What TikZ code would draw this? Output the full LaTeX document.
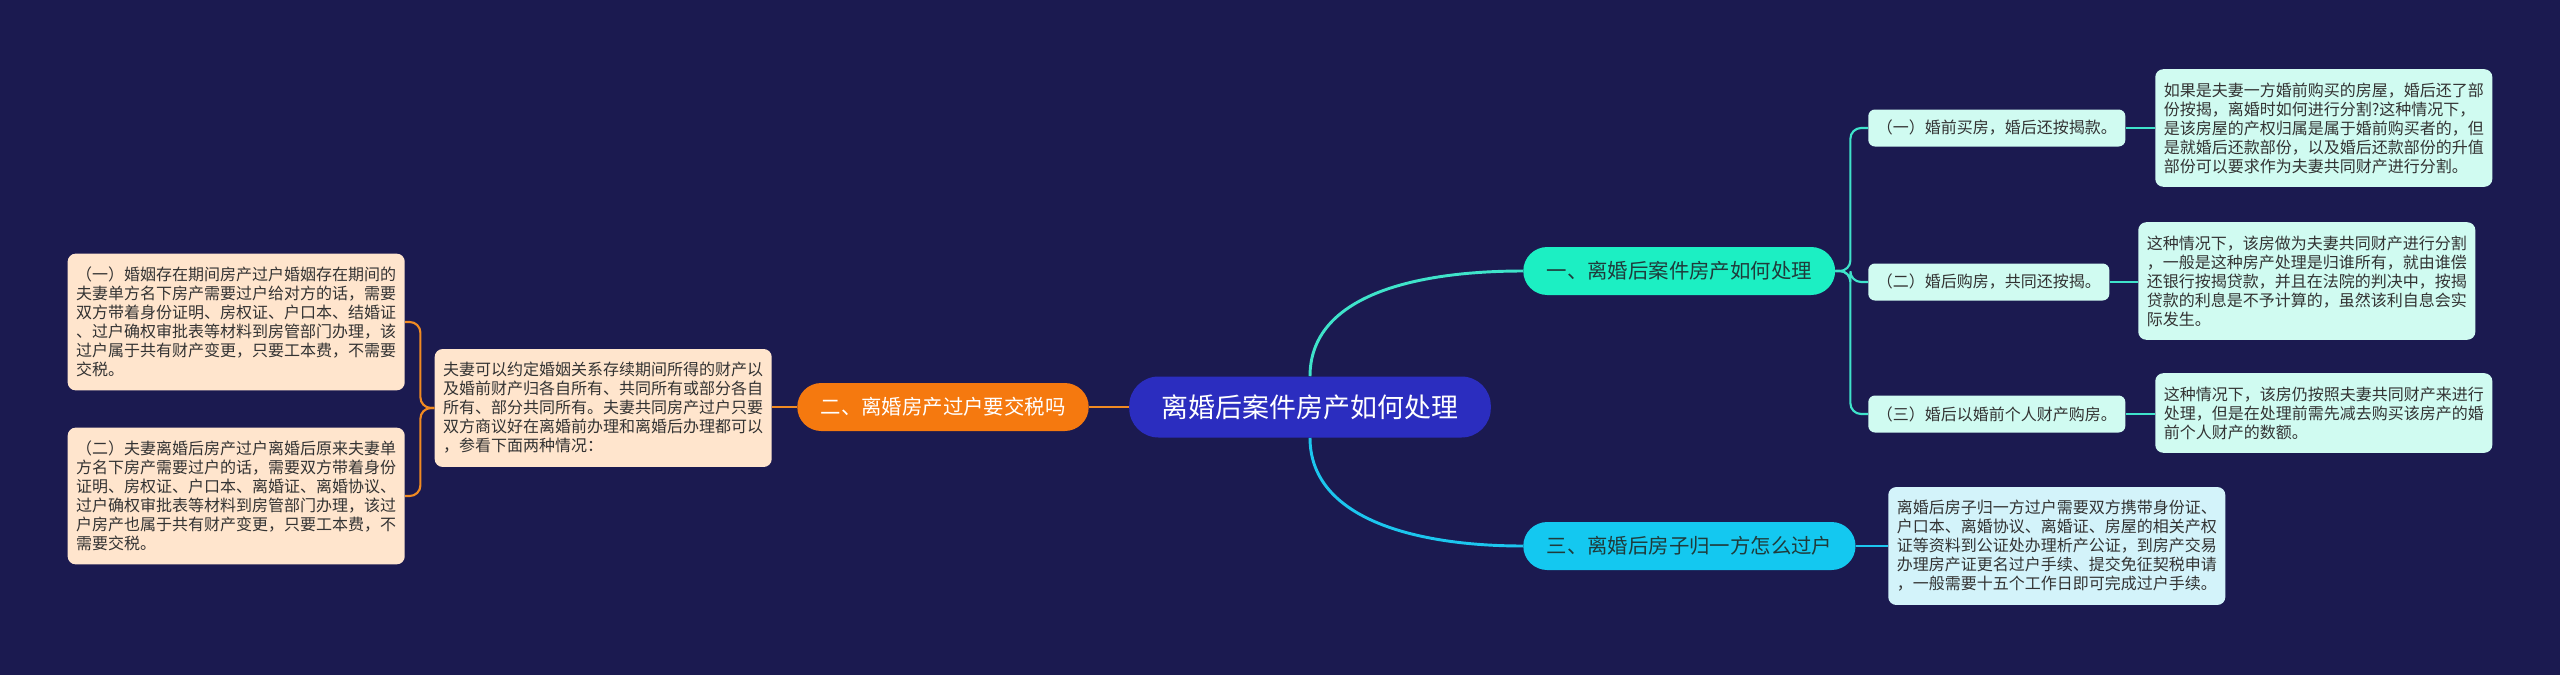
\documentclass[tikz,border=0pt]{standalone}
\usepackage{fontspec}
\setmainfont{Noto Sans CJK SC}
\usetikzlibrary{positioning}
\definecolor{bgnavy}{HTML}{1B1A50}
\definecolor{rootblue}{HTML}{2B2DBF}
\definecolor{tealfill}{HTML}{1CEFC3}
\definecolor{tealline}{HTML}{3FE3CA}
\definecolor{cyanfill}{HTML}{14C8F0}
\definecolor{cyanline}{HTML}{1CC6EE}
\definecolor{orangefill}{HTML}{F5790F}
\definecolor{orangeline}{HTML}{F08A22}
\definecolor{mintfill}{HTML}{D0FBF1}
\definecolor{icefill}{HTML}{D3F3FA}
\definecolor{peachfill}{HTML}{FFE5CD}
\definecolor{darktext}{HTML}{333333}
\definecolor{branchtext}{HTML}{1F3B3B}

\begin{document}
\begin{tikzpicture}[x=0.75pt, y=-0.75pt,
    rootnode/.style={fill=rootblue, text=white, rounded corners=22pt, minimum height=45.75pt,
        inner xsep=24.5pt, font=\fontsize{20.2}{24}\selectfont},
    branchnode/.style={rounded corners=18pt, minimum height=36pt, inner xsep=17.5pt,
        font=\fontsize{15.3}{18}\selectfont},
    subnode/.style={fill=mintfill, text=darktext, rounded corners=5pt, minimum height=27.75pt,
        inner xsep=6.4pt, font=\fontsize{12}{14.25}\selectfont},
    leafnode/.style={text=darktext, rounded corners=6pt, inner xsep=6.4pt, inner ysep=10pt,
        align=left, font=\fontsize{12}{14.25}\selectfont},
    mainlink/.style={line width=2.2pt},
    sublink/.style={line width=1.6pt, rounded corners=8pt}]

    % background
    \fill[bgnavy] (0,0) rectangle (2560,675);

    % root and main branches
    \node[rootnode] (root) at (1310,407) {离婚后案件房产如何处理};
    \node[branchnode, fill=tealfill, text=branchtext, anchor=west] (b1) at (1523,271) {一、离婚后案件房产如何处理};
    \node[branchnode, fill=orangefill, text=white, anchor=east] (b2) at (1089,407) {二、离婚房产过户要交税吗};
    \node[branchnode, fill=cyanfill, text=branchtext, anchor=west] (b3) at (1523,546) {三、离婚后房子归一方怎么过户};

    % branch 1: sub points
    \node[subnode, anchor=west] (c1) at (1868,128) {（一）婚前买房，婚后还按揭款。};
    \node[subnode, anchor=west] (c2) at (1868,282) {（二）婚后购房，共同还按揭。};
    \node[subnode, anchor=west] (c3) at (1868,414) {（三）婚后以婚前个人财产购房。};

    % branch 1: details
    \node[leafnode, fill=mintfill, anchor=west] (l1) at (2155,128) {如果是夫妻一方婚前购买的房屋，婚后还了部\\份按揭，离婚时如何进行分割?这种情况下，\\是该房屋的产权归属是属于婚前购买者的，但\\是就婚后还款部份，以及婚后还款部份的升值\\部份可以要求作为夫妻共同财产进行分割。};
    \node[leafnode, fill=mintfill, anchor=west] (l2) at (2138,281) {这种情况下，该房做为夫妻共同财产进行分割\\，一般是这种房产处理是归谁所有，就由谁偿\\还银行按揭贷款，并且在法院的判决中，按揭\\贷款的利息是不予计算的，虽然该利自息会实\\际发生。};
    \node[leafnode, fill=mintfill, anchor=west] (l3) at (2155,413) {这种情况下，该房仍按照夫妻共同财产来进行\\处理，但是在处理前需先减去购买该房产的婚\\前个人财产的数额。};

    % branch 3: detail
    \node[leafnode, fill=icefill, anchor=west] (l4) at (1888,546) {离婚后房子归一方过户需要双方携带身份证、\\户口本、离婚协议、离婚证、房屋的相关产权\\证等资料到公证处办理析产公证，到房产交易\\办理房产证更名过户手续、提交免征契税申请\\，一般需要十五个工作日即可完成过户手续。};

    % branch 2: details
    \node[leafnode, fill=peachfill, anchor=east] (l5) at (772,408) {夫妻可以约定婚姻关系存续期间所得的财产以\\及婚前财产归各自所有、共同所有或部分各自\\所有、部分共同所有。夫妻共同房产过户只要\\双方商议好在离婚前办理和离婚后办理都可以\\，参看下面两种情况：};
    \node[leafnode, fill=peachfill, anchor=east] (l6) at (405,322) {（一）婚姻存在期间房产过户婚姻存在期间的\\夫妻单方名下房产需要过户给对方的话，需要\\双方带着身份证明、房权证、户口本、结婚证\\、过户确权审批表等材料到房管部门办理，该\\过户属于共有财产变更，只要工本费，不需要\\交税。};
    \node[leafnode, fill=peachfill, anchor=east] (l7) at (405,496) {（二）夫妻离婚后房产过户离婚后原来夫妻单\\方名下房产需要过户的话，需要双方带着身份\\证明、房权证、户口本、离婚证、离婚协议、\\过户确权审批表等材料到房管部门办理，该过\\户房产也属于共有财产变更，只要工本费，不\\需要交税。};

    % main links
    \draw[mainlink, tealline] (root.north) .. controls +(0,-80) and +(-110,0) .. (b1.west);
    \draw[mainlink, cyanline] (root.south) .. controls +(0,80) and +(-110,0) .. (b3.west);
    \draw[mainlink, orangeline] (root.west) -- (b2.east);

    % sub links
    \foreach \c in {c1,c2,c3} {
        \draw[sublink, tealline] (b1.east) -- ++(15,0) |- (\c.west);
    }
    \draw[sublink, tealline] (c1.east) -- (l1.west);
    \draw[sublink, tealline] (c2.east) -- (c2.east -| l2.west);
    \draw[sublink, tealline] (c3.east) -- (c3.east -| l3.west);
    \draw[sublink, cyanline] (b3.east) -- (l4.west);
    \draw[sublink, orangeline] (b2.west) -- (b2.west -| l5.east);
    \foreach \c in {l6,l7} {
        \draw[sublink, orangeline] (l5.west) -- ++(-14,0) |- (\c.east);
    }

\end{tikzpicture}
\end{document}
